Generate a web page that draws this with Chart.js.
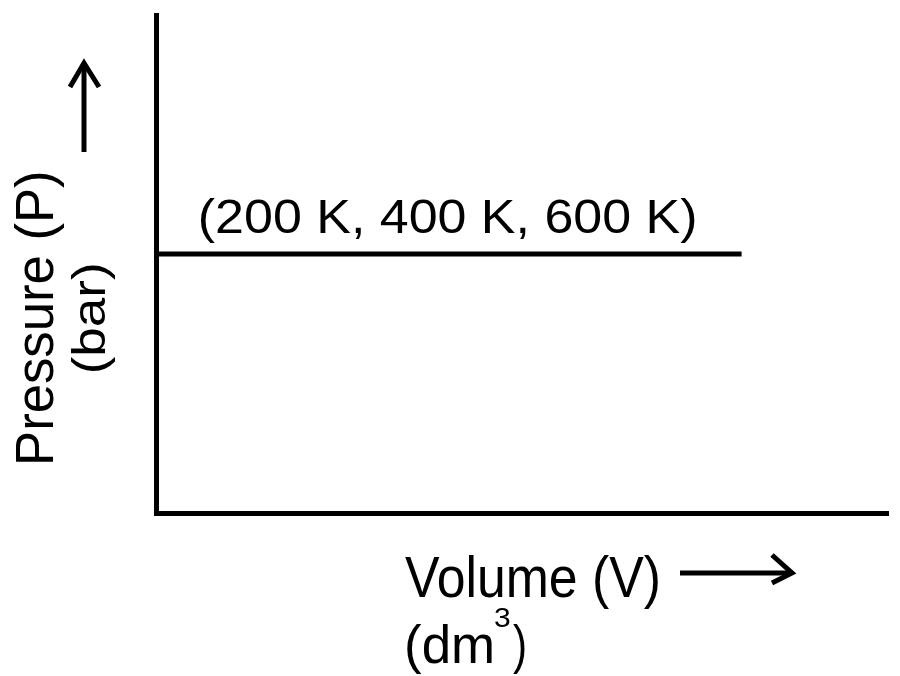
<!DOCTYPE html>
<html>
<head>
<meta charset="utf-8">
<script src="https://cdn.jsdelivr.net/npm/chart.js@4.4.1/dist/chart.umd.min.js"></script>
<style>
    html, body { margin: 0; padding: 0; background: #fff; }
    #wrap { width: 900px; height: 676px; }
</style>
</head>
<body>
<div id="wrap"><canvas id="chart" width="900" height="676"></canvas></div>
<script>
// isobar: same pressure line for all three temperatures
const volumes = [0, 8];
const pressures = [5.2, 5.2];
const volumeRange = [0, 10];
const pressureRange = [0, 10];
const isobarLabel = '(200 K, 400 K, 600 K)';
const xTitle = 'Volume (V)';
const yTitle = 'Pressure (P)';
const yUnit = '(bar)';

const FONT = '"Liberation Sans", Arial, sans-serif';

// draw text so its ink spans from `from` to `to` along the baseline
function fitText(ctx, text, from, to, size) {
    ctx.font = size + 'px ' + FONT;
    const m = ctx.measureText(text);
    const inkW = m.actualBoundingBoxLeft + m.actualBoundingBoxRight;
    const s = (to - from) / inkW;
    ctx.save();
    ctx.translate(from + m.actualBoundingBoxLeft * s, 0);
    ctx.scale(s, 1);
    ctx.fillText(text, 0, 0);
    ctx.restore();
}

function hText(ctx, text, left, right, baseline, size) {
    ctx.save();
    ctx.translate(0, baseline);
    fitText(ctx, text, left, right, size);
    ctx.restore();
}

function vText(ctx, text, bottom, top, baselineX, size) {
    ctx.save();
    ctx.translate(baselineX, bottom);
    ctx.rotate(-Math.PI / 2);
    fitText(ctx, text, 0, bottom - top, size);
    ctx.restore();
}

function arrow(ctx, pts) {
    ctx.beginPath();
    ctx.moveTo(pts[0][0], pts[0][1]);
    pts.slice(1).forEach(p => ctx.lineTo(p[0], p[1]));
    ctx.stroke();
}

const labels = {
    id: 'labels',
    afterDraw(chart) {
        const ctx = chart.ctx;
        const x = chart.scales.x, y = chart.scales.y;
        ctx.save();
        ctx.fillStyle = '#000';
        ctx.strokeStyle = '#000';
        ctx.lineWidth = 5;
        ctx.textBaseline = 'alphabetic';

        // label sits just above the isobar
        const lx = x.getPixelForValue(volumes[0]);
        const ly = y.getPixelForValue(pressures[0]);
        hText(ctx, isobarLabel, lx + 45, lx + 539, ly - 21, 49);

        // x axis title
        hText(ctx, xTitle, 405, 658, 597, 58);
        hText(ctx, '(dm', 407, 492, 663, 53);
        hText(ctx, '3', 495, 510, 627, 28);
        hText(ctx, ')', 513, 525, 663, 53);
        arrow(ctx, [[680, 573], [790, 573]]);
        arrow(ctx, [[772, 555], [792, 573], [772, 583]]);

        // y axis title
        vText(ctx, yTitle, 462, 173, 53, 53);
        vText(ctx, yUnit, 372, 265, 105, 46);
        arrow(ctx, [[84, 152], [84, 65]]);
        arrow(ctx, [[70, 87], [84, 63], [99, 87]]);
        ctx.restore();
    }
};

new Chart(document.getElementById('chart'), {
    type: 'line',
    data: {
        datasets: [{
            data: volumes.map((v, i) => ({ x: v, y: pressures[i] })),
            borderColor: '#000',
            borderWidth: 5,
            pointRadius: 0,
            fill: false,
            tension: 0
        }]
    },
    options: {
        responsive: false,
        animation: false,
        devicePixelRatio: 1,
        layout: { padding: { left: 156, top: 15, right: 12, bottom: 163 } },
        plugins: { legend: { display: false }, tooltip: { enabled: false } },
        scales: {
            x: {
                type: 'linear', min: volumeRange[0], max: volumeRange[1],
                ticks: { display: false },
                grid: { display: false, drawTicks: false },
                border: { display: true, color: '#000', width: 5 }
            },
            y: {
                type: 'linear', min: pressureRange[0], max: pressureRange[1],
                ticks: { display: false },
                grid: { display: false, drawTicks: false },
                border: { display: true, color: '#000', width: 5 }
            }
        }
    },
    plugins: [labels]
});
</script>
</body>
</html>
